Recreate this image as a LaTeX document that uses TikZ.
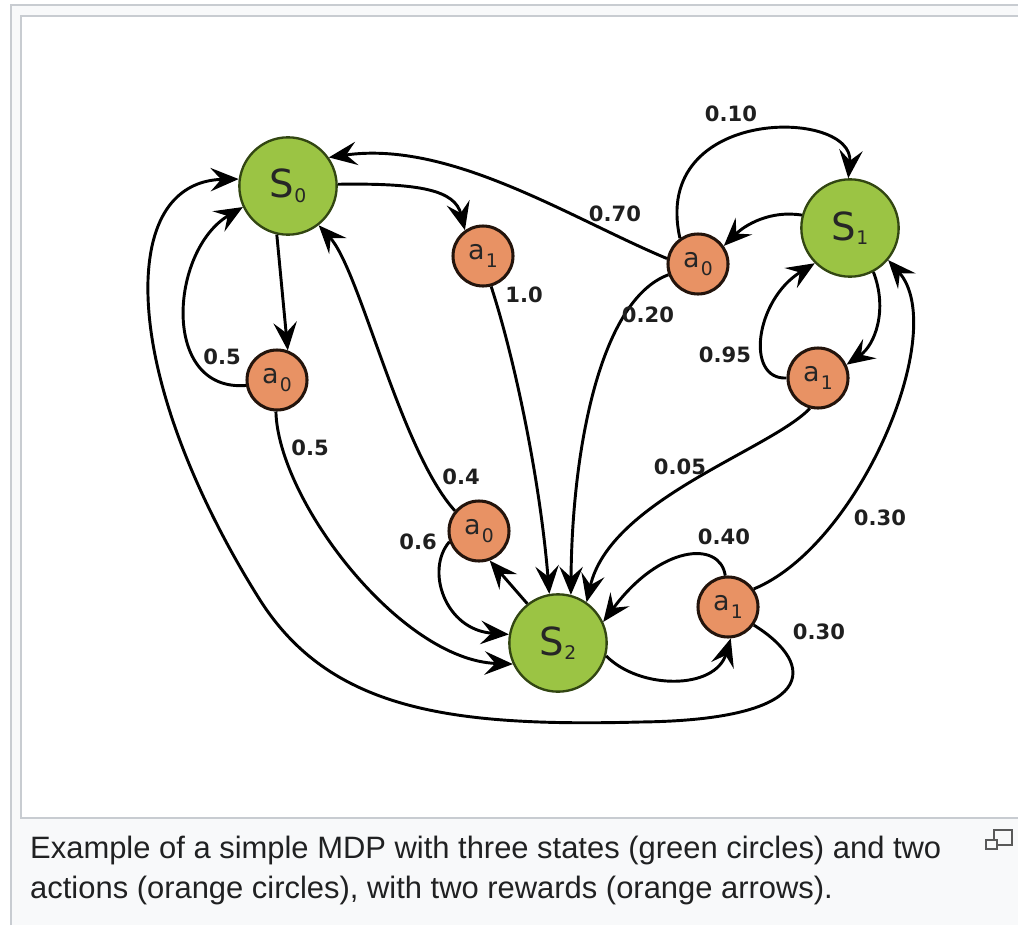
\documentclass[tikz,border=0pt]{standalone}
\usepackage{fontspec}
\setmainfont{DejaVu Sans}
\newfontfamily\capfont{Liberation Sans}
\newfontfamily\lblfont{DejaVu Sans}
\usetikzlibrary{arrows.meta}
\definecolor{sgreen}{RGB}{155,196,68}
\definecolor{sborder}{RGB}{50,70,18}
\definecolor{aorange}{RGB}{232,146,100}
\definecolor{aborder}{RGB}{35,20,12}
\definecolor{framec}{RGB}{200,204,209}
\definecolor{capbg}{RGB}{248,249,250}
\definecolor{captext}{RGB}{32,33,34}
\newcommand\stxt[1]{{\fontsize{33}{33}\selectfont S}\raisebox{-4pt}{\fontsize{16}{16}\selectfont #1}}
\newcommand\atxt[1]{{\fontsize{23}{23}\selectfont a}\kern1pt\raisebox{-7pt}{\fontsize{16}{16}\selectfont #1}}
\begin{document}
\begin{tikzpicture}[x=0.03cm,y=-0.03cm,
  state/.style={circle,draw=sborder,fill=sgreen,line width=2pt,minimum size=2.92cm,inner sep=0pt,text=black!85},
  act/.style={circle,draw=aborder,fill=aorange,line width=2.6pt,minimum size=1.8cm,inner sep=0pt,text=black!85},
  conn/.style={line width=2.5pt,-{Stealth[length=24pt,width=20pt,inset=9pt]}},
  lbl/.style={font=\lblfont\bfseries\fontsize{18}{18}\selectfont,inner sep=0pt,text=black!88}]
\useasboundingbox (0,0) rectangle (1018,925);
% frame
\fill[white] (0,0) rectangle (1018,925);
\fill[capbg] (11,5) rectangle (1018,925);
\draw[framec,line width=1pt] (11,925) -- (11,5) -- (1018,5);
\fill[white] (21,16) rectangle (1018,818);
\draw[framec,line width=1pt] (1018,818) -- (21,818) -- (21,16) -- (1018,16);
% nodes
\node[state] (s0) at (288,186) {\stxt{0}};
\node[state] (s1) at (850,228) {\stxt{1}};
\node[state] (s2) at (558,643) {\stxt{2}};
\node[act] (a0l) at (277,380) {\atxt{0}};
\node[act] (a1t) at (483,256) {\atxt{1}};
\node[act] (a0r) at (698,264) {\atxt{0}};
\node[act] (a1r) at (818,378) {\atxt{1}};
\node[act] (a0b) at (479,531) {\atxt{0}};
\node[act] (a1b) at (728,607) {\atxt{1}};
% connectors
\draw[conn] (s0.-103) -- (a0l.70);
\draw[conn] (a0l.190) .. controls (160,392) and (170,250) .. (s0.205);
\draw[conn] (a0l.-92) .. controls (278,500) and (400,660) .. (s2.205);
\draw[conn] (s0.2) .. controls (420,183) and (455,190) .. (a1t.125);
\draw[conn] (a1t.-75) .. controls (515,360) and (540,480) .. (s2.100);
\draw[conn] (a0r.170) .. controls (570,218) and (450,140) .. (s0.35);
\draw[conn] (a0r.125) .. controls (650,105) and (855,108) .. (s1.92);
\draw[conn] (a0r.200) .. controls (600,300) and (572,450) .. (s2.75);
\draw[conn] (s1.165) .. controls (770,210) and (745,225) .. (a0r.35);
\draw[conn] (s1.-62) .. controls (888,310) and (875,345) .. (a1r.25);
\draw[conn] (a1r.180) .. controls (745,380) and (755,300) .. (s1.225);
\draw[conn] (a1r.-105) .. controls (770,450) and (610,500) .. (s2.55);
\draw[conn] (s2.128) -- (a0b.-70);
\draw[conn] (a0b.140) .. controls (400,450) and (360,270) .. (s0.-52);
\draw[conn] (a0b.200) .. controls (425,570) and (445,630) .. (s2.170);
\draw[conn] (s2.-15) .. controls (640,690) and (715,690) .. (a1b.-85);
\draw[conn] (a1b.95) .. controls (720,540) and (660,545) .. (s2.25);
\draw[conn] (a1b.35) .. controls (860,545) and (950,330) .. (s1.-40);
\draw[conn] (a1b.-35) .. controls (818,665) and (818,720) .. (640,722)
  .. controls (450,727) and (330,710) .. (260,600)
  .. controls (200,505) and (145,380) .. (148,280)
  .. controls (151,200) and (190,180) .. (s0.172);
% labels
\node[lbl] (l010) at (731,114) {0.10};
\node[lbl] (l070) at (615,214) {0.70};
\node[lbl] (l020) at (648,315) {0.20};
\node[lbl] (l095) at (725,355) {0.95};
\node[lbl] (l005) at (680,467) {0.05};
\node[lbl] (l030a) at (880,518) {0.30};
\node[lbl] (l040) at (724,537) {0.40};
\node[lbl] (l030b) at (819,632) {0.30};
\node[lbl] (l10) at (524,295) {1.0};
\node[lbl] (l05a) at (222,357) {0.5};
\node[lbl] (l05b) at (310,448) {0.5};
\node[lbl] (l04) at (461,477) {0.4};
\node[lbl] (l06) at (418,542) {0.6};
% caption
\node[anchor=base west,font=\capfont\fontsize{26.4}{26.4}\selectfont,text=captext,inner sep=0pt] (cap1) at (30,858) {Example of a simple MDP with three states (green circles) and two};
\node[anchor=base west,font=\capfont\fontsize{26.4}{26.4}\selectfont,text=captext,inner sep=0pt] (cap2) at (30,898) {actions (orange circles), with two rewards (orange arrows).};
% enlarge icon
\draw[black!65,line width=1.2pt] (994,830) rectangle (1012,845);
\filldraw[fill=capbg,draw=black!65,line width=1.2pt] (986,840) rectangle (997,849);
\end{tikzpicture}
\end{document}
